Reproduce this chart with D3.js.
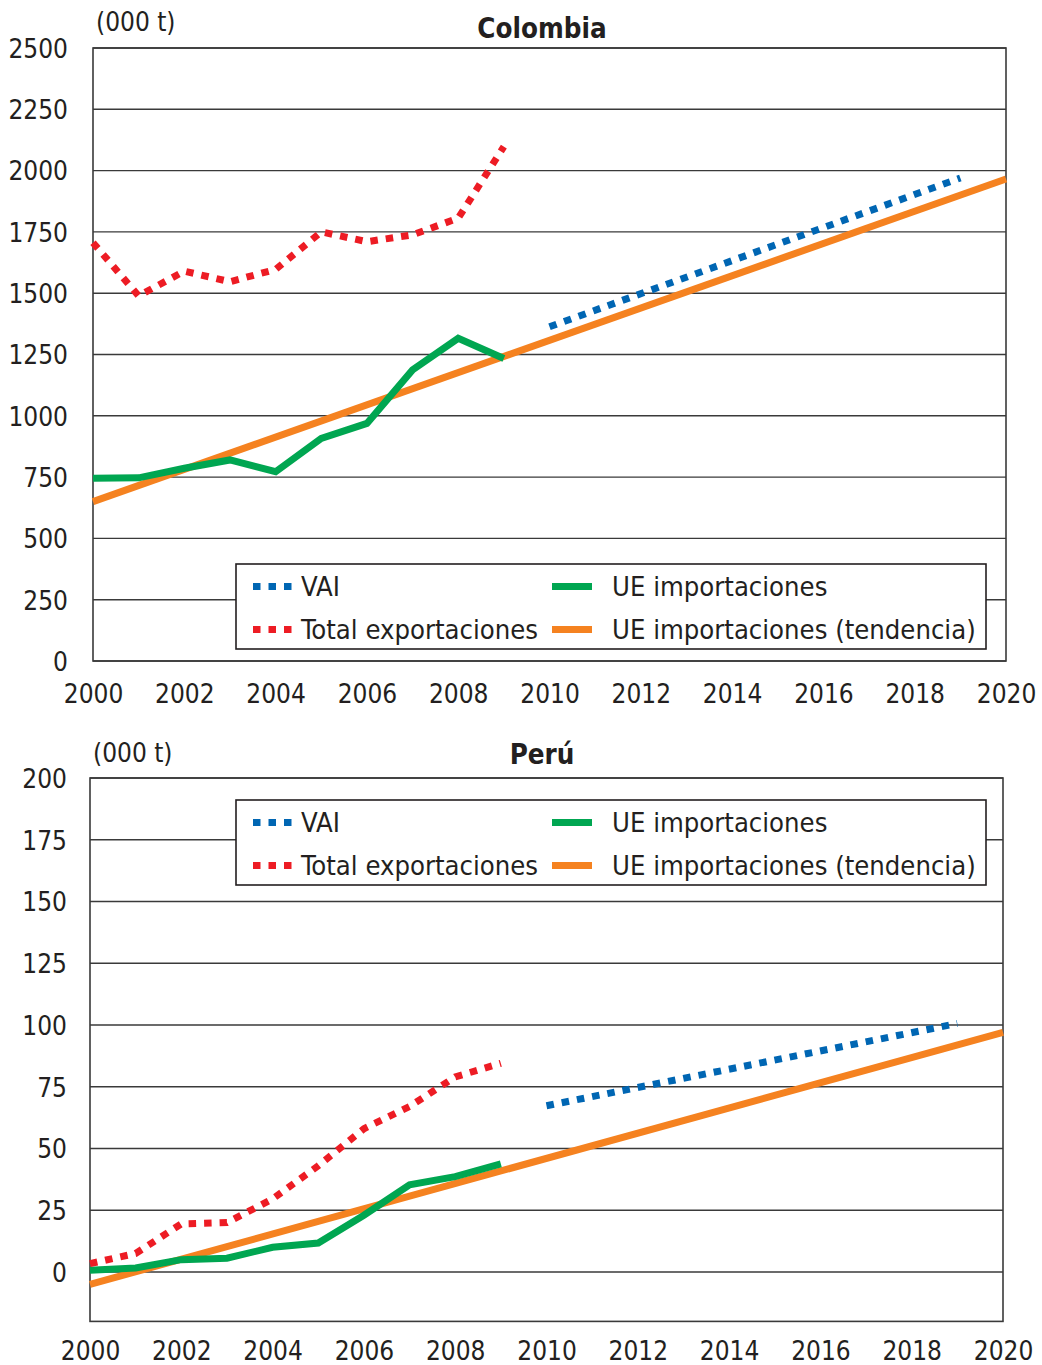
<!DOCTYPE html>
<html>
<head>
<meta charset="utf-8">
<script src="https://cdn.jsdelivr.net/npm/d3@7"></script>
<style>
  html, body { margin: 0; padding: 0; background: #fff; }
  svg text { font-family: "DejaVu Sans Condensed", "DejaVu Sans", sans-serif; fill: #231f20; }
</style>
</head>
<body>
<svg id="chart" width="1042" height="1365"></svg>
<script>
// ---------- data ----------
const years = [2000, 2001, 2002, 2003, 2004, 2005, 2006, 2007, 2008, 2009];
const trendYears = [2000, 2020];
const vaiYears = [2010, 2019];

const colombiaTotal = [1706, 1489, 1590, 1547, 1597, 1750, 1710, 1738, 1806, 2098];
const colombiaUE = [745, 747, 786, 820, 772, 908, 969, 1187, 1316, 1234];
const colombiaTrend = [650, 1966];
const colombiaVAI = [1363, 1970];

const peruTotal = [3.4, 7.5, 19.5, 20, 29.6, 43, 58, 67, 79, 84.5];
const peruUE = [0.7, 1.6, 5, 5.6, 10, 11.7, 23, 35.3, 38.6, 43.8];
const peruTrend = [-5, 97];
const peruVAI = [67.3, 100.6];

const xTicks = [2000, 2002, 2004, 2006, 2008, 2010, 2012, 2014, 2016, 2018, 2020];
const colombiaYTicks = [0, 250, 500, 750, 1000, 1250, 1500, 1750, 2000, 2250, 2500];
const peruYTicks = [0, 25, 50, 75, 100, 125, 150, 175, 200];

const titles = ["Colombia", "Perú"];
const unitLabel = "(000 t)";
const legendLabels = ["VAI", "Total exportaciones", "UE importaciones", "UE importaciones (tendencia)"];

const colors = { vai: "#0066b3", total: "#ed1c24", ue: "#00a651", trend: "#f58220" };
const dash = "7.5,8";

const svg = d3.select("#chart");

function drawPanel(cfg) {
  const g = svg.append("g");
  const x = d3.scaleLinear().domain([2000, 2020]).range([cfg.left, cfg.right]);
  const y = d3.scaleLinear().domain(cfg.yDomain).range([cfg.bottom, cfg.top]);

  // gridlines
  g.append("g").selectAll("line").data(cfg.yTicks).join("line")
    .attr("x1", cfg.left).attr("x2", cfg.right)
    .attr("y1", d => y(d)).attr("y2", d => y(d))
    .attr("stroke", "#3a3a3a").attr("stroke-width", 1.4);

  // frame
  g.append("rect")
    .attr("x", cfg.left).attr("y", cfg.top)
    .attr("width", cfg.right - cfg.left).attr("height", cfg.bottom - cfg.top)
    .attr("fill", "none").attr("stroke", "#3a3a3a").attr("stroke-width", 1.6);

  // y axis labels
  const yAxis = d3.axisLeft(y).tickValues(cfg.yTicks).tickSize(0).tickPadding(cfg.yPad).tickFormat(d3.format("d"));
  const ya = g.append("g").attr("transform", `translate(${cfg.left},0)`).call(yAxis);
  ya.select(".domain").remove();
  ya.selectAll("text").attr("font-size", 26).attr("font-family", null).attr("dy", "0.36em");

  // x axis labels
  const xAxis = d3.axisBottom(x).tickValues(xTicks).tickSize(0).tickFormat(d3.format("d"));
  const xa = g.append("g").attr("transform", `translate(0,${cfg.bottom})`).call(xAxis);
  xa.select(".domain").remove();
  xa.selectAll("text").attr("font-size", 26).attr("font-family", null)
    .attr("y", cfg.xLabelY - cfg.bottom).attr("dy", "0.36em");

  // title & unit
  g.append("text").attr("x", cfg.titleX).attr("y", cfg.titleY).attr("text-anchor", "middle")
    .attr("font-size", 27.5).attr("font-weight", "bold").attr("dy", "0.36em").text(cfg.title);
  g.append("text").attr("x", cfg.unitX).attr("y", cfg.unitY)
    .attr("font-size", 26).attr("dy", "0.36em").text(unitLabel);

  const line = d3.line().x(d => x(d[0])).y(d => y(d[1]));
  const series = [
    { pts: d3.zip(trendYears, cfg.trend), color: colors.trend, dash: null },
    { pts: d3.zip(years, cfg.ue), color: colors.ue, dash: null },
    { pts: d3.zip(years, cfg.total), color: colors.total, dash: dash },
    { pts: d3.zip(vaiYears, cfg.vai), color: colors.vai, dash: dash }
  ];
  g.append("g").selectAll("path").data(series).join("path")
    .attr("d", d => line(d.pts))
    .attr("fill", "none")
    .attr("stroke", d => d.color)
    .attr("stroke-width", 7)
    .attr("stroke-linejoin", "miter")
    .attr("stroke-dasharray", d => d.dash);

  // legend
  const lg = g.append("g");
  lg.append("rect").attr("x", 236).attr("y", cfg.legendTop).attr("width", 750).attr("height", 85)
    .attr("fill", "#fff").attr("stroke", "#231f20").attr("stroke-width", 1.6);
  const r1 = cfg.legendTop + 22.5, r2 = cfg.legendTop + 65.5;
  const items = [
    { label: legendLabels[0], color: colors.vai, dash: dash, sx: 253, tx: 301, y: r1 },
    { label: legendLabels[1], color: colors.total, dash: dash, sx: 253, tx: 301, y: r2 },
    { label: legendLabels[2], color: colors.ue, dash: null, sx: 552, tx: 612, y: r1 },
    { label: legendLabels[3], color: colors.trend, dash: null, sx: 552, tx: 612, y: r2 }
  ];
  const it = lg.selectAll("g").data(items).join("g");
  it.append("line").attr("x1", d => d.sx).attr("x2", d => d.sx + 40)
    .attr("y1", d => d.y).attr("y2", d => d.y)
    .attr("stroke", d => d.color).attr("stroke-width", 7)
    .attr("stroke-dasharray", d => d.dash);
  it.append("text").attr("x", d => d.tx).attr("y", d => d.y).attr("dy", "0.36em")
    .attr("font-size", 27.2).text(d => d.label);
}

drawPanel({
  left: 93, right: 1006, top: 48, bottom: 661, yDomain: [0, 2500], yTicks: colombiaYTicks, yPad: 25,
  xLabelY: 694, title: titles[0], titleX: 542, titleY: 28, unitX: 96, unitY: 22,
  total: colombiaTotal, ue: colombiaUE, trend: colombiaTrend, vai: colombiaVAI, legendTop: 564
});
drawPanel({
  left: 90, right: 1003, top: 778, bottom: 1321.4, yDomain: [-20, 200], yTicks: peruYTicks, yPad: 23,
  xLabelY: 1351, title: titles[1], titleX: 542, titleY: 754, unitX: 93, unitY: 753,
  total: peruTotal, ue: peruUE, trend: peruTrend, vai: peruVAI, legendTop: 800
});
</script>
</body>
</html>
